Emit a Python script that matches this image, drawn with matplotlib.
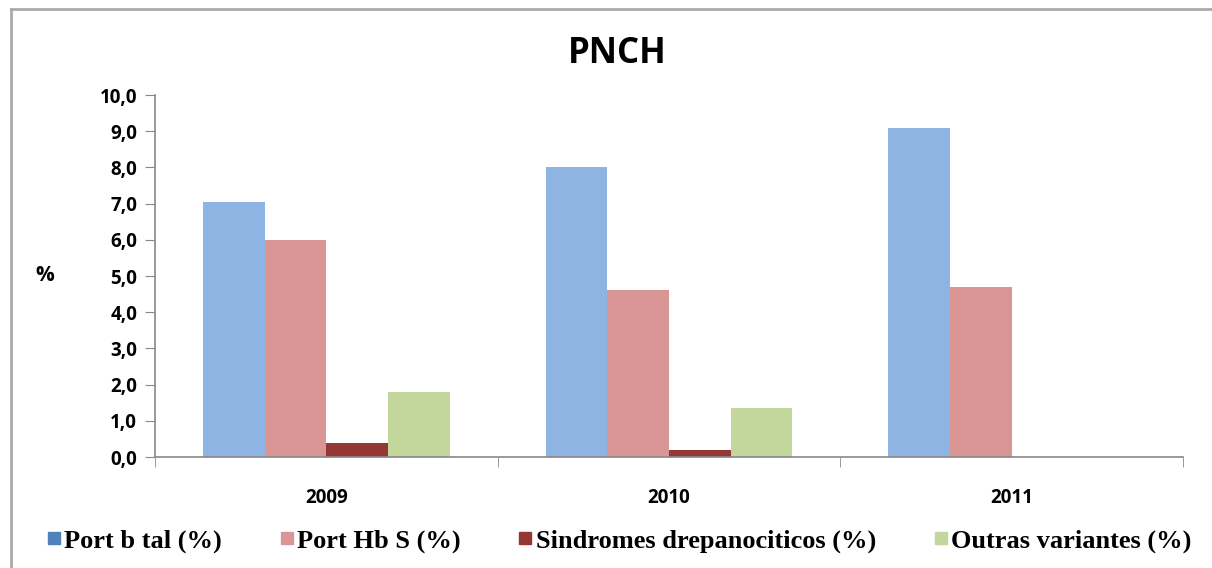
import matplotlib.pyplot as plt
from matplotlib.lines import Line2D
import numpy as np

years = ['2009', '2010', '2011']
series = ['Port b tal (%)', 'Port Hb S (%)', 'Sindromes drepanociticos (%)', 'Outras variantes (%)']
beta_tal = [7.05, 8.0, 9.1]
hb_s = [6.0, 4.6, 4.7]
drepano = [0.4, 0.2, 0.0]
outras = [1.8, 1.35, 0.0]
colors = ['#8DB4E2', '#D99694', '#953735', '#C3D69B']
legend_colors = ['#4F81BD', '#D99694', '#953735', '#C3D69B']

fig = plt.figure(figsize=(12.12, 5.68), dpi=100)
ax = fig.add_axes([0.128, 0.1954, 0.848, 0.6373])

x = np.arange(len(years))
w = 0.18
for i, vals in enumerate([beta_tal, hb_s, drepano, outras]):
    ax.bar(x + (i - 1.5) * w, vals, width=w, color=colors[i], label=series[i])

ax.set_xlim(-0.5, 2.5)
ax.set_ylim(0, 10)
ax.set_yticks(np.arange(0, 11, 1))
ax.set_yticklabels([f'{v:.1f}'.replace('.', ',') for v in np.arange(0, 11, 1)],
                   fontfamily='Open Sans', fontweight='bold', fontsize=13.5)
ax.set_xticks(x)
ax.set_xticklabels(years, fontfamily='Open Sans', fontweight='bold', fontsize=13.5)
ax.tick_params(axis='x', length=0, pad=22)
ax.tick_params(axis='y', length=7, color='#888888', pad=6)
# boundary ticks between categories
ax.set_xticks([-0.5, 0.5, 1.5, 2.5], minor=True)
ax.tick_params(axis='x', which='minor', length=7, color='#888888', direction='out')

for s in ['top', 'right']:
    ax.spines[s].set_visible(False)
for s in ['left', 'bottom']:
    ax.spines[s].set_color('#888888')
    ax.spines[s].set_linewidth(1.2)

fig.text(0.037, 0.515, '%', fontfamily='Open Sans', fontweight='bold', fontsize=15,
         ha='center', va='center')
fig.text(0.509, 0.905, 'PNCH', fontfamily='Open Sans', fontweight='bold', fontsize=25,
         ha='center', va='center')

handles = [Line2D([], [], marker='s', linestyle='none', markersize=9,
                  markerfacecolor=c, markeredgecolor=c) for c in legend_colors]
fig.legend(handles, series, loc='center', bbox_to_anchor=(0.51, 0.048), ncol=4,
           frameon=False, handletextpad=0.05, columnspacing=2.1, handlelength=0.7,
           prop={'family': 'Liberation Serif', 'weight': 'bold', 'size': 19})

# outer frame (top and left edges)
fig.add_artist(Line2D([0.009, 1.0], [0.985, 0.985], color='#aaaaaa', lw=2,
                      transform=fig.transFigure))
fig.add_artist(Line2D([0.009, 0.009], [0.0, 0.985], color='#aaaaaa', lw=2,
                      transform=fig.transFigure))

fig.savefig('out.png', dpi=100)
